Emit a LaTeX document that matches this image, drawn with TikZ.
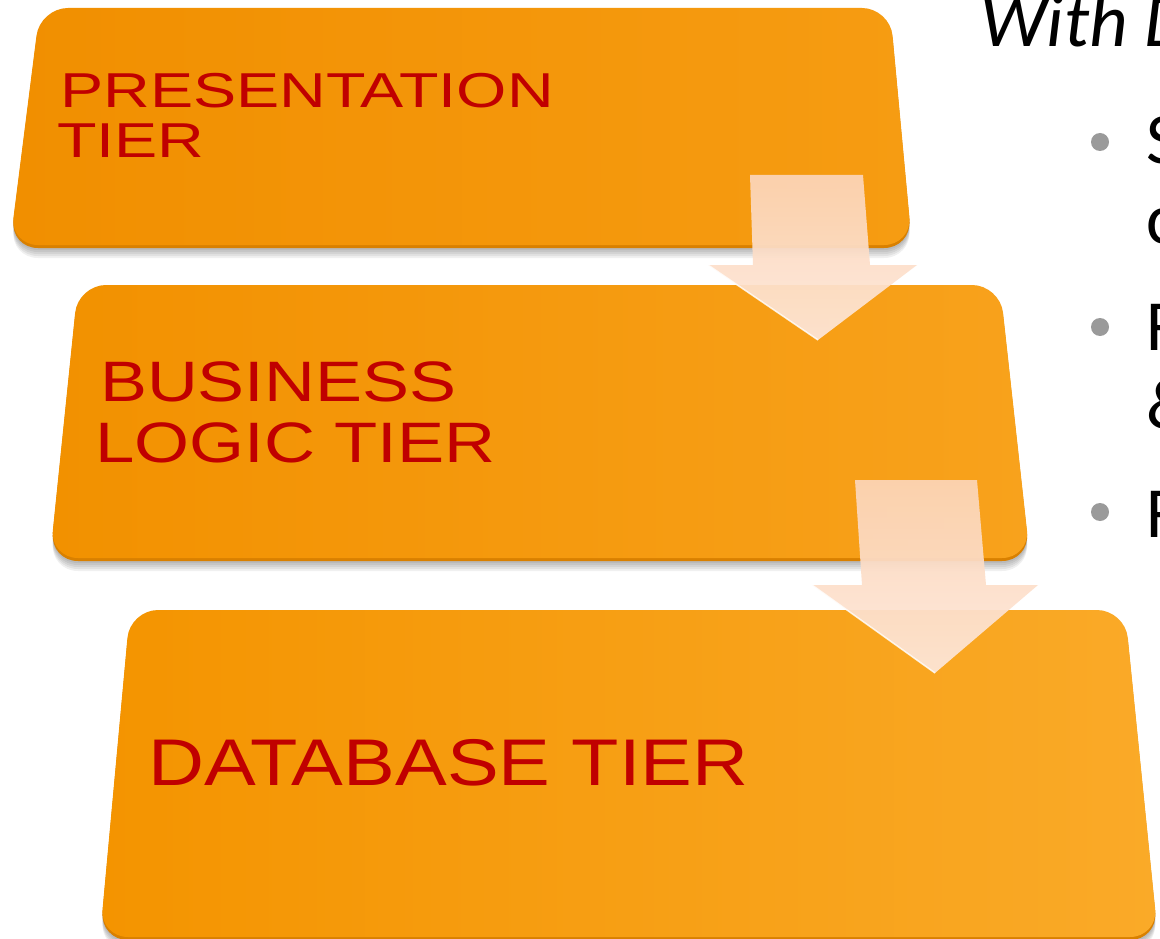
\documentclass[tikz,border=0pt]{standalone}
\usepackage{fontspec}
\setmainfont{Liberation Sans}
\newfontfamily\calib{Carlito}
\definecolor{tierred}{HTML}{C00000}
\definecolor{bulletgray}{HTML}{9A9A9A}
\definecolor{bevel}{HTML}{D98000}
\definecolor{arrowtop}{HTML}{FCD5B8}
\definecolor{arrowbot}{HTML}{FDE7DA}
\definecolor{oneL}{RGB}{241,143,0}
\definecolor{oneR}{RGB}{246,156,18}
\definecolor{twoL}{RGB}{242,145,0}
\definecolor{twoR}{RGB}{248,162,28}
\definecolor{threeL}{RGB}{244,148,0}
\definecolor{threeR}{RGB}{250,170,40}
\tikzset{
  tierbox/.style={rounded corners=28pt},
  tiershadow/.style={tierbox, fill=black, fill opacity=0.06},
  tiertext/.style={anchor=base west, inner sep=0pt, text=tierred},
  sidetext/.style={anchor=base west, inner sep=0pt, text=black, font=\calib\fontsize{72}{80}\selectfont},
  dot/.style={circle, fill=bulletgray, minimum size=18pt, inner sep=0pt},
  blockarrow/.style={top color=arrowtop, bottom color=arrowbot, fill opacity=0.93, draw=none},
}
\newcommand\tierboxA{(40,8) -- (890,8) -- (912,245) -- (10,245) -- cycle}
\newcommand\tierboxB{(78,285) -- (1000,285) -- (1030,558) -- (50,558) -- cycle}
\newcommand\tierboxC{(130,610) -- (1125,610) -- (1158,937) -- (100,937) -- cycle}
\begin{document}
\begin{tikzpicture}[x=1pt, y=-1pt]
\useasboundingbox (0,0) rectangle (1160,939);
\fill[white] (0,0) rectangle (1160,939);
% ---------- box 1
\foreach \d in {3,5,7,9,11,13}{\fill[tiershadow, yshift=-\d pt] \tierboxA;}
\fill[tierbox, bevel, yshift=-3pt] \tierboxA;
\shade[tierbox, left color=oneL, right color=oneR] \tierboxA;
% ---------- box 2
\foreach \d in {3,5,7,9,11,13}{\fill[tiershadow, yshift=-\d pt] \tierboxB;}
\fill[tierbox, bevel, yshift=-3pt] \tierboxB;
\shade[tierbox, left color=twoL, right color=twoR] \tierboxB;
% ---------- box 3
\foreach \d in {3,5,7,9,11,13}{\fill[tiershadow, yshift=-\d pt] \tierboxC;}
\fill[tierbox, bevel, yshift=-3pt] \tierboxC;
\shade[tierbox, left color=threeL, right color=threeR] \tierboxC;
% ---------- texts in boxes
\node[tiertext, font=\fontsize{49}{49}\selectfont] (pres1) at (60,108) {\scalebox{1.32}[1]{PRESENTATION}};
\node[tiertext, font=\fontsize{49}{49}\selectfont] (pres2) at (57,158) {\scalebox{1.32}[1]{TIER}};
\node[tiertext, font=\fontsize{57}{57}\selectfont] (bus1) at (100,401) {\scalebox{1.235}[1]{BUSINESS}};
\node[tiertext, font=\fontsize{57}{57}\selectfont] (bus2) at (95,462) {\scalebox{1.24}[1]{LOGIC TIER}};
\node[tiertext, font=\fontsize{66}{66}\selectfont] (db) at (148,785) {\scalebox{1.175}[1]{DATABASE TIER}};
% ---------- block arrows
\coordinate (a1) at (818,340);
\coordinate (a2) at (935,673);
\shade[blockarrow] (750,175) -- (863,175) -- (870,265) -- (917,265) -- (a1) -- (708,265) -- (753,265) -- cycle;
\draw[white, line width=1.5pt, opacity=0.8] (708,265) -- (a1);
\shade[blockarrow] (855,480) -- (977,480) -- (986,585) -- (1038,585) -- (a2) -- (812,585) -- (862,585) -- cycle;
\draw[white, line width=1.5pt, opacity=0.8] (812,585) -- (a2);
% ---------- right column
\node[sidetext, font=\calib\itshape\fontsize{75}{80}\selectfont] (title) at (980,47) {With D};
\node[dot] (b1) at (1100,142) {};
\node[dot] (b2) at (1100,327) {};
\node[dot] (b3) at (1100,512) {};
\node[sidetext] (t1a) at (1146,164) {S};
\node[sidetext] (t1b) at (1146,243) {c};
\node[sidetext] (t2a) at (1146,350) {F};
\node[sidetext] (t2b) at (1146,428) {\&};
\node[sidetext] (t3a) at (1146,537) {F};
\end{tikzpicture}
\end{document}
